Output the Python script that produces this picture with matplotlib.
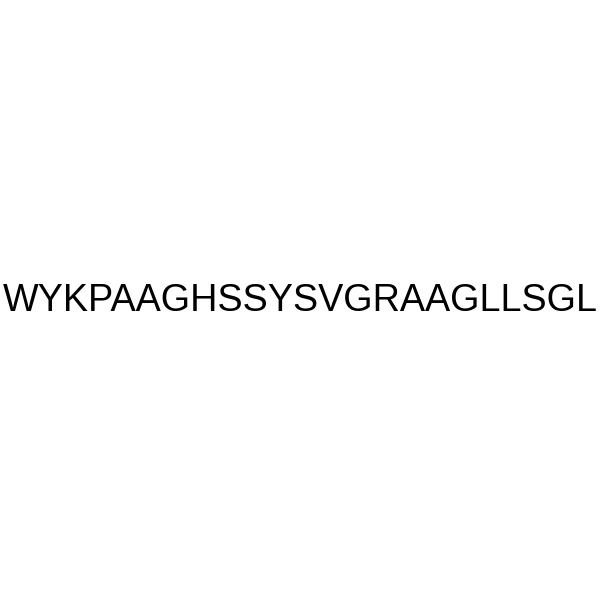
import matplotlib.pyplot as plt

sequence = "WYKPAAGHSSYSVGRAAGLLSGL"

fig = plt.figure(figsize=(6, 6), dpi=100)
fig.patch.set_facecolor('white')
fig.text(0.5, 0.498, sequence, ha='center', va='center',
         fontsize=27.2, family='Liberation Sans', color='black')
fig.savefig('out.png', dpi=100, facecolor='white')
